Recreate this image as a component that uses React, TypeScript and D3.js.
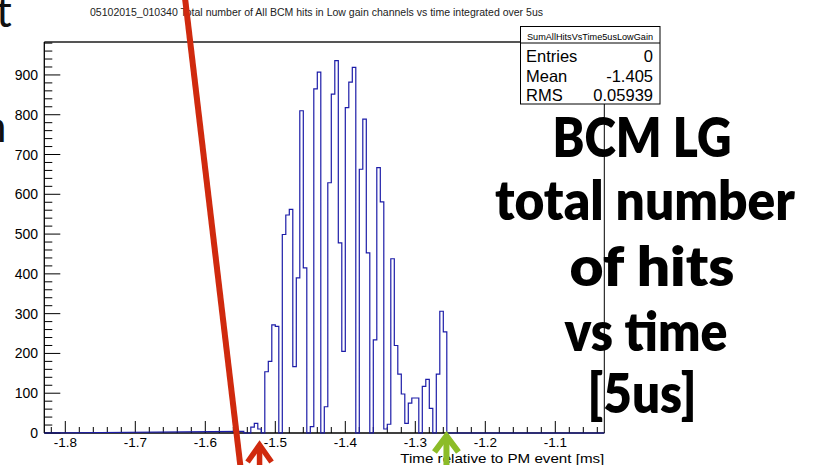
import React from "react";
import * as d3 from "d3";

const TITLE =
  "05102015_010340 Total number of All BCM hits in Low gain channels vs time integrated over 5us";
const X_TITLE = "Time relative to PM event [ms]";
const X_DOMAIN = [-1.83, -1.03];
const Y_MAX = 982.8;
const X_TICKS = [-1.8, -1.7, -1.6, -1.5, -1.4, -1.3, -1.2, -1.1];
const X_MINOR_STEP = 0.02;
const Y_TICKS = [0, 100, 200, 300, 400, 500, 600, 700, 800, 900];
const Y_MINOR_STEP = 20;
const FIRST_BIN_LOW = -1.55;
const BIN_WIDTH = 0.005;
const COUNTS = [
  4, 0, 0, 15, 24, 10, 0, 154, 180, 272, 268, 0, 499, 548, 562, 167, 390, 810,
  415, 0, 16, 865, 907, 0, 66, 629, 852, 936, 478, 205, 818, 882, 919, 0, 663,
  789, 453, 0, 234, 667, 581, 10, 22, 438, 220, 148, 98, 24, 75, 88, 88, 0, 117,
  135, 62, 0, 148, 306, 254, 0,
];
const STATS_NAME = "SumAllHitsVsTime5usLowGain";
const STATS_LABELS = ["Entries", "Mean", "RMS"];
const STATS_VALUES = ["0", "-1.405", "0.05939"];
const OVERLAY_LINES = ["BCM LG", "total number", "of hits", "vs time", "[5us]"];
const RED_ARROW_X = -1.5225;
const GREEN_ARROW_X = -1.2555;

export default function App() {
  const L = 44.3,
    R = 604.3,
    T = 42,
    B = 433;
  const x = d3.scaleLinear().domain(X_DOMAIN).range([L, R]);
  const y = d3.scaleLinear().domain([0, Y_MAX]).range([B, T]);

  const pts: [number, number][] = [];
  pts.push([x(X_DOMAIN[0]), y(0)]);
  COUNTS.forEach((c, i) => {
    const lo = FIRST_BIN_LOW + i * BIN_WIDTH;
    const hi = lo + BIN_WIDTH;
    pts.push([x(lo), y(c)]);
    pts.push([x(hi), y(c)]);
  });
  pts.push([x(FIRST_BIN_LOW + COUNTS.length * BIN_WIDTH), y(0)]);
  pts.push([x(X_DOMAIN[1]), y(0)]);
  const histPath = d3.line<[number, number]>()(pts) || "";

  const xMinor = d3.range(-1.82, -1.03, X_MINOR_STEP).filter(
    (v) => !X_TICKS.some((t) => Math.abs(t - v) < 1e-6)
  );
  const yMinor = d3.range(0, Y_MAX, Y_MINOR_STEP).filter((v) => v % 100 !== 0);

  const font = "'Liberation Sans', Arial, Helvetica, sans-serif";

  const overlayCenters = [642, 645, 652, 646, 642];
  const overlayBase = [157, 220, 286, 351, 413];
  const overlayWidths = [179, 300, 165, 163, 109];

  const rx = x(RED_ARROW_X);
  const gx = x(GREEN_ARROW_X);

  return (
    <svg
      width={820}
      height={465}
      style={{ position: "absolute", left: 0, top: 0, background: "#fff" }}
    >
      <rect x={0} y={0} width={820} height={465} fill="#fff" />
      <text x={-4} y={27} fontSize={44} fontFamily="Lato, sans-serif" fill="#111">
        t
      </text>
      <text x={-18} y={142} fontSize={44} fontFamily="Lato, sans-serif" fill="#111">
        n
      </text>

      <text
        x={90}
        y={16}
        fontSize={10}
        fontFamily={font}
        fill="#222"
        textLength={453}
        lengthAdjust="spacingAndGlyphs"
      >
        {TITLE}
      </text>

      <line x1={L} x2={521} y1={T} y2={T} stroke="#555" strokeWidth={2} />
      <line x1={L} x2={L} y1={T} y2={B} stroke="#000" strokeWidth={1.3} />
      <line x1={R} x2={R} y1={T} y2={B} stroke="#000" strokeWidth={1} />

      {Y_TICKS.map((v) => (
        <g key={"y" + v}>
          <line x1={L} x2={L + 16} y1={y(v)} y2={y(v)} stroke="#000" strokeWidth={1} />
          <text
            x={38}
            y={y(v) + 5}
            fontSize={14}
            fontFamily={font}
            textAnchor="end"
            fill="#000"
          >
            {v}
          </text>
        </g>
      ))}
      {yMinor.map((v) => (
        <line key={"ym" + v} x1={L} x2={L + 8} y1={y(v)} y2={y(v)} stroke="#000" strokeWidth={1} />
      ))}

      {X_TICKS.map((v) => (
        <g key={"x" + v}>
          <line x1={x(v)} x2={x(v)} y1={B} y2={B - 12} stroke="#000" strokeWidth={1} />
          <text
            x={x(v)}
            y={B + 14}
            fontSize={13.5}
            fontFamily={font}
            textAnchor="middle"
            fill="#000"
          >
            {v.toFixed(1)}
          </text>
        </g>
      ))}
      {xMinor.map((v) => (
        <line key={"xm" + v} x1={x(v)} x2={x(v)} y1={B} y2={B - 6} stroke="#000" strokeWidth={1} />
      ))}

      <text
        x={R}
        y={462.5}
        fontSize={13.5}
        fontFamily={font}
        textAnchor="end"
        fill="#000"
        textLength={204}
        lengthAdjust="spacingAndGlyphs"
      >
        {X_TITLE}
      </text>

      <line x1={L} x2={R} y1={B} y2={B} stroke="#000" strokeWidth={1.3} />

      <path d={histPath} fill="none" stroke="#1c1ca8" strokeWidth={1.2} />

      <rect x={520.5} y={26.5} width={139.5} height={77.5} fill="#fff" stroke="#000" strokeWidth={1} />
      <line x1={520.5} x2={660} y1={43} y2={43} stroke="#000" strokeWidth={1} />
      <text
        x={590}
        y={39.5}
        fontSize={9.5}
        fontFamily={font}
        textAnchor="middle"
        fill="#000"
        textLength={126}
        lengthAdjust="spacingAndGlyphs"
      >
        {STATS_NAME}
      </text>
      {STATS_LABELS.map((l, i) => (
        <g key={l}>
          <text x={526} y={62 + i * 19.5} fontSize={16.5} fontFamily={font} fill="#000">
            {l}
          </text>
          <text
            x={653}
            y={62 + i * 19.5}
            fontSize={16.5}
            fontFamily={font}
            textAnchor="end"
            fill="#000"
          >
            {STATS_VALUES[i]}
          </text>
        </g>
      ))}

      <line x1={185} y1={-2} x2={240.5} y2={467} stroke="#d02a0e" strokeWidth={6} />

      <g stroke="#d02a0e" strokeWidth={5.5} fill="none" strokeLinejoin="miter">
        <polyline points={`${rx - 12},${462} ${rx},${445} ${rx + 12},${462}`} />
        <line x1={rx} x2={rx} y1={446} y2={470} />
      </g>
      <g stroke="#8cbc28" strokeWidth={6} fill="none" strokeLinejoin="miter">
        <polyline points={`${gx - 12},${452} ${gx},${436} ${gx + 12},${452}`} />
        <line x1={gx} x2={gx} y1={437} y2={470} />
      </g>

      {OVERLAY_LINES.map((t, i) => (
        <text
          key={t}
          x={overlayCenters[i]}
          y={overlayBase[i]}
          fontSize={54}
          fontWeight={800}
          fontFamily="Lato, 'Open Sans', sans-serif"
          textAnchor="middle"
          fill="#000"
          textLength={overlayWidths[i]}
          lengthAdjust="spacingAndGlyphs"
        >
          {t}
        </text>
      ))}
    </svg>
  );
}
